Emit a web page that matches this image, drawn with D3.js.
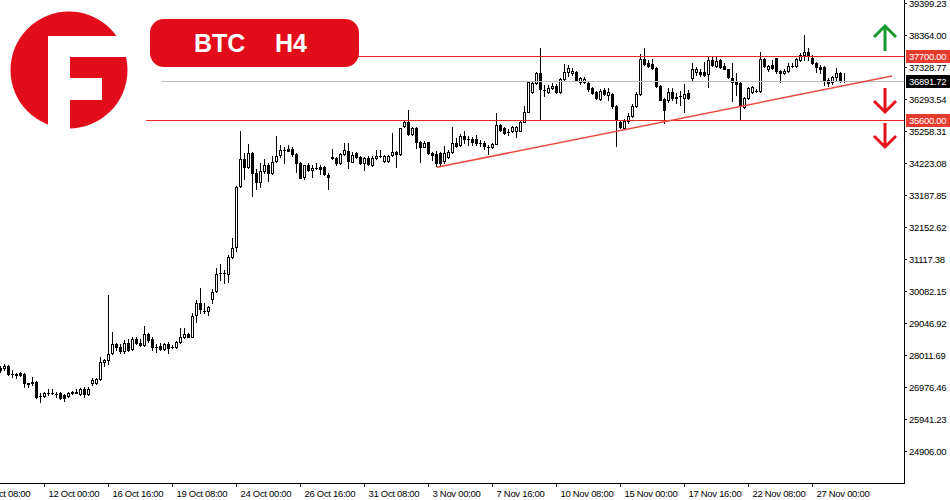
<!DOCTYPE html>
<html><head><meta charset="utf-8">
<script src="https://cdn.jsdelivr.net/npm/d3@7"></script>
<style>html,body{margin:0;padding:0;background:#fff;}svg{display:block;}</style>
</head><body>
<svg id="chart" width="950" height="500"></svg>
<script>
// ---- DATA (BTC H4, one entry per 4-hour bar, weekends skipped) ----
const openP  = [27591,27591,27656,27397,27380,27430,27397,27090,27139,27139,26670,26685,26783,26790,26760,26783,26718,26685,26790,26800,26750,26912,26750,27106,27106,27235,27785,27850,28076,28367,28271,28141,28400,28206,28529,28400,28335,28691,28529,28271,28303,28206,28367,28271,28271,28432,28594,28691,28594,29306,29694,29435,29435,29823,30082,30664,30670,30632,31182,31505,33479,34352,34093,34546,33899,33608,33964,34158,33899,34288,34482,34643,34676,34676,34514,34223,33770,34158,33996,34061,34093,34093,33835,34417,34385,34223,34514,34611,34255,34546,34417,34223,34385,34158,34385,34449,34288,34288,34482,34579,34514,35420,35549,35161,35355,34902,34741,34902,34546,34514,34546,34288,34417,34579,34870,34805,35096,34999,34999,34999,34870,34870,34741,34741,34838,35452,35355,35226,35258,35258,35258,35549,35873,36520,36811,37134,36584,36520,36649,36714,36520,36940,37167,37134,37167,36843,36843,36811,36649,36520,36293,36584,36423,36455,36067,35549,35355,35582,35743,36067,36455,37587,37458,37426,37296,36714,36293,36261,36520,36326,36390,36326,36487,36973,37167,37167,37167,37102,37555,37361,37555,37361,37264,36973,36843,36811,36034,36326,36520,36552,36552,37587,37264,37393,37620,37199,37134,37199,37361,37361,37555,37717,37814,37620,37458,37329,37329,36908,36843,37005,37134,36880];
const highP  = [27656,27721,27688,27527,27430,27450,27420,27106,27300,27170,26783,26815,26912,26912,26815,26815,26750,26815,26840,26912,26940,26977,26977,27268,27268,27947,27880,29953,28755,28400,28367,28497,28529,28594,28594,28529,28950,28723,28594,28367,28400,28400,28432,28335,28465,28885,28885,28723,29371,29791,30179,29694,29600,30147,30826,30956,30760,31247,31797,33479,35258,34546,34838,34580,34029,34223,34352,34223,34449,35096,34805,34741,34805,34741,34546,34255,34158,34223,34158,34223,34158,34126,33899,34676,34417,34546,34870,34870,34579,34579,34449,34420,34449,34449,34643,34643,34482,34470,35193,34600,35370,35582,35937,35388,35388,34935,34935,34902,34579,34611,34579,34773,34643,35388,35032,35161,35258,35096,35064,35129,34967,34935,34805,34870,35840,35500,35388,35323,35420,35420,35582,36067,36876,36843,37167,37943,36746,36746,36811,36779,36973,37426,37393,37296,37199,37005,37005,36843,36681,36552,36617,36649,36649,36487,36099,35582,35646,35840,36132,36520,37749,37943,37555,37587,37329,36746,36326,36649,36649,36487,36552,36779,36584,37458,37329,37264,37490,37684,37652,37652,37587,37458,37280,37458,37134,36843,36358,36681,36714,36617,37814,37620,37393,37555,37630,37230,37264,37458,37458,37620,37782,38364,37943,37717,37490,37393,37361,36973,37037,37296,37167,37134];
const lowP   = [27462,27527,27365,27300,27268,27330,26977,26977,27041,26621,26491,26653,26718,26750,26653,26590,26524,26653,26750,26783,26718,26653,26718,27041,27074,27203,27656,27721,28060,28174,28076,28076,28141,28174,28380,28303,28303,28432,28174,28109,28174,28174,28076,28238,28250,28400,28560,28580,28580,29079,29371,29371,29306,29694,30050,30438,30340,30373,31150,31377,33446,33705,34061,33155,33382,33446,33899,33641,33867,34255,34417,34223,34600,34449,33932,33738,33705,33980,33770,34029,33867,33835,33382,34352,34158,34191,34482,34061,34240,34400,34200,33996,34158,34126,34352,34417,34255,34270,34449,34093,34482,35388,35129,35129,34708,34255,34741,34514,34320,34126,34158,34223,34385,34546,34741,34773,34870,34805,34805,34805,34773,34676,34514,34708,34838,35258,35161,35129,35226,35064,35258,35549,35873,36490,36779,35614,36390,36487,36617,36500,36487,36908,37037,37070,36876,36779,36811,36552,36455,36293,36261,36423,36261,36002,34773,35370,35340,35517,35711,36034,36430,37400,37329,37280,36681,36250,35517,36196,36261,36164,36099,35873,36300,36876,37070,37037,37040,36681,37361,37329,37296,37250,36973,36229,36423,35614,36002,36293,36487,36520,36520,37329,37199,37280,37134,36843,37102,37167,37329,37329,37523,37555,37555,37426,37167,37134,36746,36714,36779,36876,36843,36843];
const closeP = [27527,27656,27397,27410,27390,27365,27106,27080,27106,26653,26685,26783,26790,26780,26750,26621,26621,26783,26800,26790,26912,26750,26912,27203,27235,27785,27850,28044,28367,28271,28141,28400,28174,28529,28400,28335,28691,28497,28271,28260,28206,28367,28238,28280,28432,28594,28691,28594,29273,29694,29500,29440,29565,30050,30632,30670,30660,31182,31473,33446,34352,34093,34546,33899,33608,33964,34158,33899,34255,34449,34643,34650,34611,34514,34223,33738,34158,33996,34061,34070,34029,33867,33770,34385,34223,34514,34643,34288,34482,34417,34223,34385,34191,34385,34449,34455,34449,34449,34579,34514,35355,35549,35161,35355,34902,34741,34870,34546,34482,34223,34223,34546,34579,34870,34773,35096,34999,35005,34902,34870,34875,34773,34735,34838,35452,35291,35193,35230,35388,35388,35549,35873,36843,36811,37134,36617,36590,36649,36714,36520,36940,37167,37296,37199,36908,36973,36940,36617,36487,36326,36552,36455,36520,36067,35614,35388,35582,35743,36067,36455,37587,37426,37361,37296,36714,36261,35937,36520,36326,36358,36395,36455,36326,37264,37264,37102,37070,37555,37393,37523,37329,37264,37005,36843,36779,36067,36326,36649,36681,36560,37587,37361,37361,37296,37199,37134,37199,37361,37370,37587,37717,37814,37717,37458,37329,37264,36876,36811,37005,37134,36876,36891.72];

// time axis: bar index of each labelled tick and its text
const xTickIndex  = [-5, 11, 27, 43, 59, 75, 91, 107, 123, 139, 155, 171, 187, 203];
const xTickLabels = ["9 Oct 08:00","12 Oct 00:00","16 Oct 16:00","19 Oct 08:00","24 Oct 00:00","26 Oct 16:00","31 Oct 08:00","3 Nov 00:00","7 Nov 16:00","10 Nov 08:00","15 Nov 00:00","17 Nov 16:00","22 Nov 08:00","27 Nov 00:00"];
// price axis tick values
const yTicks = [24906.00,25941.23,26976.46,28011.69,29046.92,30082.15,31117.38,32152.62,33187.85,34223.08,35258.31,36293.54,37328.77,38364.00,39399.23];

// drawn levels (price, first bar index)
const levelPrices = [37700, 35600];
const levelStart  = [40, 36.5];
const lastPrice = 36891.72;
const lastStart = 40.5;
// rising trend line: [bar index, price] endpoints
const trendIdx   = [109.2, 223];
const trendPrice = [34084, 37037];

const symbolText = "BTC", tfText = "H4";

// ---- DRAWING ----
const svg = d3.select("#chart");
const plotR = 904, plotB = 483;
const x = d3.scaleLinear().domain([0, 225]).range([0, 900]);
const y = d3.scaleLinear().domain([24906, 39399.23]).range([451, 3]);
const FONT = "'Liberation Sans', Arial, sans-serif";
const FS = 9.5, LS = -0.3;
const RED_LINE = "#e6291f", RED_BOX = "#e63b2e", LOGO_RED = "#e20c1a";

const gPlot = svg.append("g");

// candles
const bars = d3.range(openP.length).map(i => ({i, o: openP[i], h: highP[i], l: lowP[i], c: closeP[i]}));
const gC = gPlot.append("g");
bars.forEach(d => {
  const cx = Math.round(x(d.i));
  const yh = Math.round(y(d.h)), yl = Math.round(y(d.l));
  const yo = Math.round(y(d.o)), yc = Math.round(y(d.c));
  const top = Math.min(yo, yc), bot = Math.max(yo, yc);
  gC.append("rect").attr("x", cx).attr("y", yh).attr("width", 1).attr("height", yl - yh + 1).attr("fill", "#000");
  gC.append("rect").attr("x", cx - 1).attr("y", top).attr("width", 3).attr("height", Math.max(1, bot - top + 1)).attr("fill", "#000");
  if (d.c > d.o && bot - top >= 2) {
    gC.append("rect").attr("x", cx).attr("y", top + 1).attr("width", 1).attr("height", bot - top - 1).attr("fill", "#fff");
  }
});

// horizontal levels
levelPrices.forEach((p, k) => {
  const yy = Math.round(y(p)) + 0.5;
  gPlot.append("line").attr("x1", x(levelStart[k])).attr("x2", plotR).attr("y1", yy).attr("y2", yy)
    .attr("stroke", RED_LINE).attr("stroke-width", 1);
});
{
  const yy = Math.round(y(lastPrice)) + 0.5;
  gPlot.append("line").attr("x1", x(lastStart)).attr("x2", plotR).attr("y1", yy).attr("y2", yy)
    .attr("stroke", "#bdbdbd").attr("stroke-width", 1);
}
// trend line
gPlot.append("line")
  .attr("x1", x(trendIdx[0])).attr("y1", y(trendPrice[0]))
  .attr("x2", x(trendIdx[1])).attr("y2", y(trendPrice[1]))
  .attr("stroke", "#ec4a3e").attr("stroke-width", 1.5);

// frame
svg.append("line").attr("x1", plotR + 0.5).attr("x2", plotR + 0.5).attr("y1", 0).attr("y2", plotB + 1).attr("stroke", "#000");
svg.append("line").attr("x1", 0).attr("x2", plotR + 1).attr("y1", plotB + 0.5).attr("y2", plotB + 0.5).attr("stroke", "#000");

// right price axis
const yAxis = svg.append("g").attr("transform", `translate(${plotR},0)`)
  .call(d3.axisRight(y).tickValues(yTicks).tickFormat(d => d.toFixed(2)).tickSize(3).tickPadding(2));
yAxis.select(".domain").remove();
yAxis.selectAll("text").attr("font-family", FONT).attr("font-size", FS).attr("letter-spacing", LS).attr("fill", "#000");

// bottom time axis
const xAxis = svg.append("g").attr("transform", `translate(0,${plotB})`)
  .call(d3.axisBottom(x).tickValues(xTickIndex).tickFormat((d, k) => xTickLabels[k]).tickSize(4).tickPadding(3));
xAxis.select(".domain").remove();
xAxis.selectAll("text").attr("text-anchor", "start").attr("x", 4)
  .attr("font-family", FONT).attr("font-size", FS).attr("letter-spacing", LS).attr("fill", "#000");

// price boxes
function priceBox(p, fill) {
  const yy = Math.round(y(p));
  svg.append("rect").attr("x", 906).attr("y", yy - 6).attr("width", 44).attr("height", 13).attr("fill", fill);
  svg.append("text").attr("x", 909).attr("y", yy + 0.5).attr("dy", "0.35em")
    .attr("font-family", FONT).attr("font-size", FS).attr("letter-spacing", LS).attr("fill", "#fff").text(p.toFixed(2));
}
priceBox(levelPrices[0], RED_BOX);
priceBox(lastPrice, "#000");
priceBox(levelPrices[1], RED_BOX);

// arrows
function arrow(xc, yTail, yHead, color) {
  const dir = yHead < yTail ? 1 : -1;
  svg.append("path")
    .attr("d", `M${xc},${yTail}L${xc},${yHead}M${xc - 11},${yHead + dir * 11}L${xc},${yHead}L${xc + 11},${yHead + dir * 11}`)
    .attr("fill", "none").attr("stroke", color).attr("stroke-width", 3).attr("stroke-linejoin", "miter");
}
arrow(885, 51, 26, "#1a9a32");
arrow(885, 88, 112, "#e3121c");
arrow(885, 123, 147, "#e3121c");

// title pill
svg.append("rect").attr("x", 150).attr("y", 19).attr("width", 209).attr("height", 48).attr("rx", 14).attr("fill", LOGO_RED);
svg.append("text").attr("x", 194).attr("y", 52).attr("font-family", FONT).attr("font-weight", 700)
  .attr("font-size", 25).attr("fill", "#fff").text(symbolText);
svg.append("text").attr("x", 275).attr("y", 52).attr("font-family", FONT).attr("font-weight", 700)
  .attr("font-size", 25).attr("fill", "#fff").text(tfText);

// logo
const logo = svg.append("g");
logo.append("circle").attr("cx", 69).attr("cy", 70).attr("r", 58.5).attr("fill", LOGO_RED);
logo.append("rect").attr("x", 48).attr("y", 36).attr("width", 22).attr("height", 100).attr("fill", "#fff");
logo.append("rect").attr("x", 48).attr("y", 36).attr("width", 90).attr("height", 21).attr("fill", "#fff");
logo.append("rect").attr("x", 70).attr("y", 78).attr("width", 32).attr("height", 22).attr("fill", "#fff");
</script>
</body></html>
